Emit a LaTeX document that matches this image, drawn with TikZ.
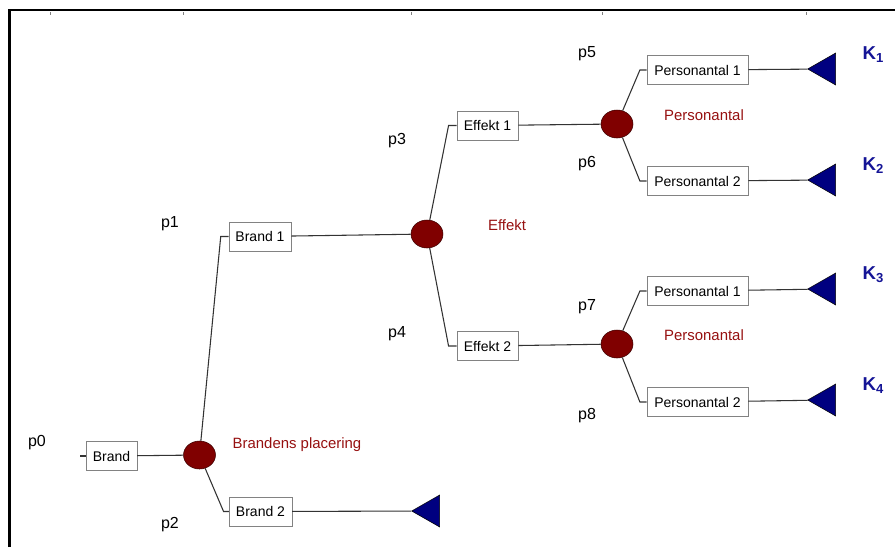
\documentclass[tikz,border=0pt]{standalone}
\usepackage{fontspec}
\setmainfont{Liberation Sans}
\usetikzlibrary{shapes.geometric}
\definecolor{chancered}{RGB}{128,0,0}
\definecolor{chanceline}{RGB}{60,0,0}
\definecolor{labelred}{RGB}{150,16,16}
\definecolor{leafblue}{RGB}{0,0,128}
\definecolor{kblue}{RGB}{20,20,150}
\definecolor{boxgray}{RGB}{130,130,130}

\begin{document}
\begin{tikzpicture}[x=0.75pt,y=-0.75pt,
  box/.style={draw=boxgray,fill=white,inner sep=0pt,minimum height=22pt,font=\fontsize{10.5}{12}\selectfont},
  chance/.style={ellipse,draw=chanceline,fill=chancered,minimum width=24pt,minimum height=21pt,inner sep=0pt},
  leaf/.style={isosceles triangle,shape border rotate=180,isosceles triangle stretches,draw=black,fill=leafblue,minimum width=24pt,minimum height=21pt,inner sep=0pt,anchor=apex},
  branch/.style={draw=black!80,line width=0.8pt},
  prob/.style={font=\fontsize{12}{14}\selectfont},
  chancelabel/.style={text=labelred,font=\fontsize{11.2}{13}\selectfont},
  payoff/.style={text=kblue,font=\fontsize{14}{16}\selectfont\bfseries,anchor=west}]
\useasboundingbox (0,0) rectangle (895,547);
\draw[line width=1.8pt] (9.5,547) -- (9.5,10) -- (895,10);
\foreach \x in {50,183,411,602,806}{
    \draw[gray,line width=0.6pt] (\x,12) -- (\x,15);
}

% root
\coordinate (root) at (80,456);
\node[box,minimum width=38pt] (brand) at (111.5,456) {Brand};
\node[chance] (c0) at (199.5,455) {};
\node[chancelabel] (l0) at (297,445) {Brandens placering};
\draw[branch] (root) -- (brand);
\draw[branch] (brand) -- (c0);

\node[box,minimum width=46.5pt] (brand1) at (260,236.5) {Brand 1};
\node[box,minimum width=47pt] (brand2) at (260.5,511.5) {Brand 2};
\node[leaf] (t0) at (411,511) {};
\draw[branch] (c0) -- ([xshift=-6pt]brand1.west) -- (brand1.west);
\draw[branch] (c0) -- ([xshift=-4pt]brand2.west) -- (brand2.west);
\draw[branch] (brand2) -- (t0);

% effekt
\node[chance] (c1) at (427,234) {};
\node[chancelabel] (l1) at (507,225) {Effekt};
\draw[branch] (brand1) -- (c1);
\node[box,minimum width=46pt] (eff1) at (487.5,125.5) {Effekt 1};
\node[box,minimum width=46pt] (eff2) at (487.5,346) {Effekt 2};
\draw[branch] (c1) -- ([xshift=-6pt]eff1.west) -- (eff1.west);
\draw[branch] (c1) -- ([xshift=-6pt]eff2.west) -- (eff2.west);

% personantal
\node[chance] (c2) at (617,124) {};
\node[chance] (c3) at (617,344) {};
\draw[branch] (eff1) -- (c2);
\draw[branch] (eff2) -- (c3);
\node[chancelabel] (l2) at (704,115) {Personantal};
\node[chancelabel] (l3) at (704,335) {Personantal};
\node[box,minimum width=76pt] (pa1) at (697.5,70) {Personantal 1};
\node[box,minimum width=76pt] (pa2) at (697.5,181) {Personantal 2};
\node[box,minimum width=76pt] (pb1) at (697.5,291) {Personantal 1};
\node[box,minimum width=76pt] (pb2) at (697.5,402) {Personantal 2};
\draw[branch] (c2) -- ([xshift=-5pt]pa1.west) -- (pa1.west);
\draw[branch] (c2) -- ([xshift=-5pt]pa2.west) -- (pa2.west);
\draw[branch] (c3) -- ([xshift=-5pt]pb1.west) -- (pb1.west);
\draw[branch] (c3) -- ([xshift=-5pt]pb2.west) -- (pb2.west);

% end nodes
\node[leaf] (t1) at (807,69) {};
\node[leaf] (t2) at (807,180) {};
\node[leaf] (t3) at (807,289) {};
\node[leaf] (t4) at (807,400) {};
\draw[branch] (pa1) -- (t1);
\draw[branch] (pa2) -- (t2);
\draw[branch] (pb1) -- (t3);
\draw[branch] (pb2) -- (t4);
\node[payoff] (k1) at (858,55) {K$_\mathbf{1}$};
\node[payoff] (k2) at (858,166) {K$_\mathbf{2}$};
\node[payoff] (k3) at (858,275) {K$_\mathbf{3}$};
\node[payoff] (k4) at (858,386) {K$_\mathbf{4}$};

% probabilities
\node[prob] (p0) at (37,443) {p0};
\node[prob] (p1) at (170,224) {p1};
\node[prob] (p2) at (170,525) {p2};
\node[prob] (p3) at (397,141) {p3};
\node[prob] (p4) at (397,334) {p4};
\node[prob] (p5) at (587,54) {p5};
\node[prob] (p6) at (587,164) {p6};
\node[prob] (p7) at (587,307) {p7};
\node[prob] (p8) at (587,416) {p8};
\end{tikzpicture}
\end{document}
